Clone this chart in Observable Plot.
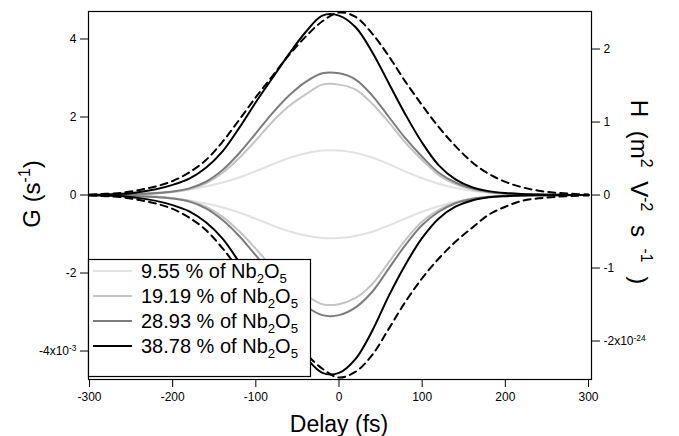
<!DOCTYPE html>
<html><head><meta charset="utf-8">
<script src="https://cdn.jsdelivr.net/npm/d3@7"></script>
<script src="https://cdn.jsdelivr.net/npm/@observablehq/plot@0.6"></script>
<style>
body{margin:0;background:#fff;}
#chart{position:relative;width:679px;height:436px;}
#chart svg{position:absolute;left:0;top:0;}
</style></head><body><div id="chart"></div>
<script>
// ---- data ----
const delayFs = [-300,-280,-260,-240,-220,-200,-180,-160,-140,-120,-100,-80,-60,-40,-20,0,20,40,60,80,100,120,140,160,180,200,220,240,260,280,300];
const g955Pos = [0.005,0.01,0.02,0.04,0.06,0.09,0.14,0.22,0.32,0.45,0.61,0.79,0.95,1.07,1.14,1.14,1.08,0.96,0.79,0.60,0.43,0.29,0.18,0.11,0.06,0.035,0.02,0.01,0.005,0.003,0.001];
const g955Neg = [-0.005,-0.01,-0.02,-0.04,-0.06,-0.09,-0.14,-0.22,-0.32,-0.45,-0.61,-0.78,-0.93,-1.04,-1.10,-1.10,-1.05,-0.94,-0.78,-0.60,-0.43,-0.29,-0.18,-0.11,-0.06,-0.035,-0.02,-0.01,-0.005,-0.003,-0.001];
const g1919Pos = [0.001,0.003,0.01,0.02,0.04,0.08,0.15,0.30,0.57,0.95,1.40,1.88,2.28,2.58,2.83,2.83,2.70,2.34,1.86,1.34,0.90,0.51,0.28,0.14,0.07,0.035,0.017,0.008,0.004,0.002,0.001];
const g1919Neg = [-0.001,-0.003,-0.01,-0.02,-0.04,-0.08,-0.15,-0.30,-0.56,-0.93,-1.38,-1.85,-2.25,-2.56,-2.80,-2.80,-2.64,-2.28,-1.72,-1.15,-0.68,-0.38,-0.19,-0.09,-0.04,-0.02,-0.01,-0.005,-0.003,-0.002,-0.001];
const g2893Pos = [0.002,0.005,0.012,0.03,0.05,0.09,0.17,0.34,0.64,1.07,1.58,2.10,2.55,2.90,3.12,3.12,2.96,2.55,2.00,1.45,0.98,0.57,0.32,0.17,0.08,0.04,0.02,0.01,0.005,0.002,0.001];
const g2893Neg = [-0.002,-0.005,-0.012,-0.03,-0.05,-0.09,-0.17,-0.34,-0.64,-1.05,-1.55,-2.05,-2.50,-2.85,-3.08,-3.08,-2.88,-2.48,-1.88,-1.28,-0.77,-0.43,-0.21,-0.10,-0.05,-0.02,-0.01,-0.005,-0.003,-0.002,-0.001];
const g3878Pos = [0.005,0.01,0.03,0.08,0.15,0.26,0.42,0.70,1.12,1.72,2.38,3.00,3.62,4.18,4.60,4.60,4.30,3.66,2.86,2.06,1.34,0.76,0.40,0.20,0.10,0.05,0.025,0.012,0.006,0.003,0.001];
const g3878Neg = [-0.005,-0.01,-0.03,-0.08,-0.15,-0.26,-0.42,-0.70,-1.12,-1.72,-2.36,-3.00,-3.60,-4.16,-4.56,-4.56,-4.20,-3.48,-2.58,-1.78,-1.10,-0.60,-0.30,-0.14,-0.06,-0.03,-0.015,-0.007,-0.004,-0.002,-0.001];
const h3878Pos = [0.005,0.016,0.032,0.069,0.118,0.192,0.31,0.48,0.73,1.03,1.34,1.63,1.92,2.17,2.38,2.50,2.44,2.21,1.90,1.55,1.23,0.93,0.67,0.45,0.29,0.18,0.107,0.059,0.032,0.016,0.008];
const h3878Neg = [-0.005,-0.016,-0.032,-0.069,-0.118,-0.19,-0.31,-0.48,-0.73,-1.03,-1.34,-1.63,-1.92,-2.17,-2.38,-2.50,-2.42,-2.19,-1.83,-1.46,-1.14,-0.87,-0.64,-0.45,-0.27,-0.16,-0.08,-0.045,-0.025,-0.012,-0.006];
const seriesPct = ["9.55","19.19","28.93","38.78"];
const xTicks = [-300,-200,-100,0,100,200,300];
const gTicks = [-4,-2,0,2,4];
const hTicks = [-2,-1,0,1,2];

// ---- styles / layout ----
const colors = ["#e2e2e2","#c4c4c4","#7c7c7c","#000000"];
const font = "'Liberation Sans', Arial, Helvetica, sans-serif";
const W = 679, Hh = 436;
const margins = {marginTop: 11, marginRight: 88, marginBottom: 57, marginLeft: 88};
const xDomain = [-301.2, 303.6];
const gDomain = [-4.73, 4.705];
const hDomain = [-2.527, 2.514];

const rows = arr => delayFs.map((d, i) => ({delay: d, v: arr[i]}));
const gSeries = [[g955Pos, g955Neg],[g1919Pos, g1919Neg],[g2893Pos, g2893Neg],[g3878Pos, g3878Neg]];

const gMarks = [];
gSeries.forEach((pair, i) => {
  pair.forEach(arr => gMarks.push(Plot.line(rows(arr), {x: "delay", y: "v", stroke: colors[i], strokeWidth: 2, curve: "catmull-rom"})));
});

const plotG = Plot.plot({
  width: W, height: Hh, ...margins,
  style: {fontFamily: font, fontSize: "12px", background: "white", color: "black"},
  x: {domain: xDomain},
  y: {domain: gDomain},
  marks: [
    ...gMarks,
    Plot.frame({stroke: "black", strokeWidth: 1.2}),
    Plot.axisX({ticks: xTicks, tickSize: 8, tickPadding: 5, tickFormat: d => String(d), label: null}),
    Plot.axisY({ticks: gTicks, tickSize: 8, tickPadding: 4, tickFormat: d => d === -4 ? "-4x10-3" : String(d), label: null})
  ]
});

const plotH = Plot.plot({
  width: W, height: Hh, ...margins,
  style: {fontFamily: font, fontSize: "12px", background: "transparent", color: "black"},
  x: {domain: xDomain, axis: null},
  y: {domain: hDomain},
  marks: [
    Plot.line(rows(h3878Pos), {x: "delay", y: "v", stroke: "black", strokeWidth: 2, strokeDasharray: "7,5", curve: "catmull-rom"}),
    Plot.line(rows(h3878Neg), {x: "delay", y: "v", stroke: "black", strokeWidth: 2, strokeDasharray: "7,5", curve: "catmull-rom"}),
    Plot.axisY({anchor: "right", ticks: hTicks, tickSize: 8, tickPadding: 4, tickFormat: d => d === -2 ? "-2x10-24" : String(d), label: null})
  ]
});

const chart = document.getElementById("chart");
chart.appendChild(plotG);
chart.appendChild(plotH);

// superscript in tick labels
function supTick(svg, raw, base, sup) {
  d3.select(svg).selectAll("text").filter(function(){ return this.textContent === raw; }).each(function(){
    const t = d3.select(this);
    t.text(null);
    t.append("tspan").text(base);
    t.append("tspan").attr("dy", "-0.5em").attr("font-size", "0.7em").text(sup);
  });
}
supTick(plotG, "-4x10-3", "-4x10", "-3");
supTick(plotH, "-2x10-24", "-2x10", "-24");

function rich(text, parts, size) {
  let shift = 0;
  for (const [s, k] of parts) {
    const target = k === "sup" ? -0.42 * size : k === "sub" ? 0.24 * size : 0;
    text.append("tspan").attr("dy", target - shift).attr("font-size", k ? size * 0.66 : size).text(s);
    shift = target;
  }
}

const sg = d3.select(plotG);
// left axis label
const gl = sg.append("text").attr("transform", "translate(40,194) rotate(-90)")
  .attr("text-anchor", "middle").attr("font-family", font).attr("fill", "black");
rich(gl, [["G (s"], ["-1", "sup"], [")"]], 24);
// x axis label
const xl = sg.append("text").attr("x", 339).attr("y", 432)
  .attr("text-anchor", "middle").attr("font-family", font).attr("fill", "black");
rich(xl, [["Delay (fs)"]], 23);

const sh = d3.select(plotH);
// right axis label
const hl = sh.append("text").attr("transform", "translate(631,192) rotate(90)")
  .attr("text-anchor", "middle").attr("font-family", font).attr("fill", "black")
  .attr("word-spacing", "7px");
rich(hl, [["H (m"], ["2", "sup"], [" V"], ["-2", "sup"], [" s"], [" -1", "sup"], [" )"]], 24);

// legend (drawn on top of all curves)
const lg = sh.append("g");
lg.append("rect").attr("x", 88.5).attr("y", 259.5).attr("width", 222).attr("height", 117)
  .attr("fill", "white").attr("stroke", "black").attr("stroke-width", 1.2);
const rowY = [271, 296, 321, 346];
seriesPct.forEach((p, i) => {
  lg.append("line").attr("x1", 93).attr("x2", 132).attr("y1", rowY[i]).attr("y2", rowY[i])
    .attr("stroke", colors[i]).attr("stroke-width", 2);
  const t = lg.append("text").attr("x", 141).attr("y", rowY[i] + 7)
    .attr("text-anchor", "start").attr("font-family", font).attr("fill", "black");
  rich(t, [[p + " % of Nb"], ["2", "sub"], ["O"], ["5", "sub"]], 20);
});
</script></body></html>
